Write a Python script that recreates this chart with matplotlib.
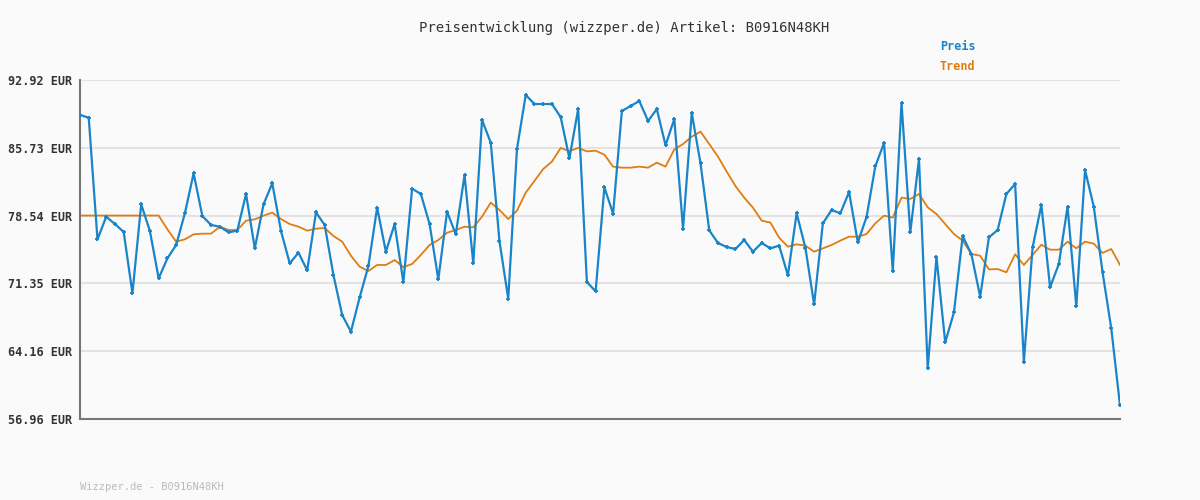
import matplotlib
matplotlib.use("Agg")
import matplotlib.pyplot as plt

preis = [89.21,88.92,76.02,78.42,77.64,76.80,70.29,79.73,76.90,71.88,74.00,75.42,78.78,83.02,78.49,77.54,77.36,76.76,76.94,80.83,
75.06,79.73,81.96,76.90,73.47,74.60,72.73,78.88,77.54,72.23,67.99,66.22,69.86,73.19,79.38,74.71,77.64,71.46,81.39,80.83,77.64,
71.77,78.95,76.55,82.84,73.47,88.68,86.27,75.80,69.72,85.60,91.33,90.37,90.37,90.37,88.99,84.61,89.84,71.49,70.50,81.53,
78.74,89.63,90.16,90.69,88.57,89.84,85.99,88.78,77.15,89.42,84.08,76.97,75.63,75.20,74.99,75.95,74.71,75.63,75.06,75.35,
72.20,78.78,75.13,69.12,77.71,79.13,78.78,81.04,75.70,78.39,83.76,86.24,72.62,90.48,76.76,84.54,62.33,74.14,65.09,68.27,
76.37,74.43,69.93,76.23,77.01,80.83,81.89,63.04,75.17,79.66,70.93,73.40,79.48,68.91,83.37,79.48,72.55,66.58,58.41]
trend = [78.54]*10 + [77.08,75.77,76.02,76.55,76.62,76.62,77.36,77.01,77.01,78.00,78.14,78.53,78.85,78.17,77.64,77.36,76.94,77.15,
77.22,76.37,75.77,74.28,73.12,72.66,73.30,73.30,73.82,73.08,73.40,74.36,75.42,
75.95,76.72,77.01,77.36,77.29,78.42,79.91,79.13,78.17,79.06,80.97,82.21,83.48,84.26,85.71,85.39,85.71,85.35,85.42,85.00,
83.73,83.62,83.62,83.73,83.62,84.15,83.73,85.56,86.13,86.91,87.44,86.13,84.79,83.20,81.67,80.44,79.38,78.00,77.79,76.19,
75.24,75.49,75.35,74.71,75.06,75.42,75.88,76.30,76.30,76.58,77.71,78.53,78.32,80.44,80.30,80.83,79.41,78.70,77.64,76.58,
75.88,74.46,74.28,72.83,72.87,72.52,74.43,73.30,74.36,75.45,74.92,74.92,75.77,75.06,75.77,75.56,74.57,74.99,73.30]
yticks = [56.96, 64.16, 71.35, 78.54, 85.73, 92.92]
ylabels = [f"{v:.2f} EUR" for v in yticks]

blue = "#1a84c9"; orange = "#e07d10"
fig = plt.figure(figsize=(12, 5), dpi=100, facecolor="#fafafa")
ax = fig.add_axes([80/1200, 1-419/500, 1040/1200, 339/500])
ax.set_facecolor("#fafafa")
x = list(range(len(preis)))
ax.plot(x, trend, color=orange, lw=1.3, zorder=2)
ax.plot(x, preis, color=blue, lw=1.6, marker="+", ms=3.5, mew=1.3, zorder=3)
ax.set_xlim(0, len(preis)-1)
ax.set_ylim(56.96, 92.92)
ax.set_yticks(yticks)
ax.set_yticklabels(ylabels, family="DejaVu Sans Mono", fontsize=8.5, weight="bold", color="#333333")
ax.set_xticks([])
ax.tick_params(axis="y", length=0, pad=6)
ax.grid(axis="y", color="#e3e3e3", lw=1.5, zorder=0)
for s in ["top", "right"]:
    ax.spines[s].set_visible(False)
ax.spines["left"].set_color("#777777"); ax.spines["bottom"].set_color("#777777")
ax.spines["left"].set_linewidth(1.5); ax.spines["bottom"].set_linewidth(1.5)
fig.text(0.52, 1-28/500, "Preisentwicklung (wizzper.de) Artikel: B0916N48KH", ha="center", va="center",
         family="DejaVu Sans Mono", fontsize=10, color="#333333")
fig.text(940/1200, 1-47/500, "Preis", color=blue, family="DejaVu Sans Mono", fontsize=8.5, weight="bold", va="center")
fig.text(940/1200, 1-67/500, "Trend", color=orange, family="DejaVu Sans Mono", fontsize=8.5, weight="bold", va="center")
fig.text(80/1200, 1-487/500, "Wizzper.de - B0916N48KH", color="#bbbbbb", family="DejaVu Sans Mono", fontsize=7.5, va="center")
fig.savefig("out.png", dpi=100, facecolor=fig.get_facecolor())
